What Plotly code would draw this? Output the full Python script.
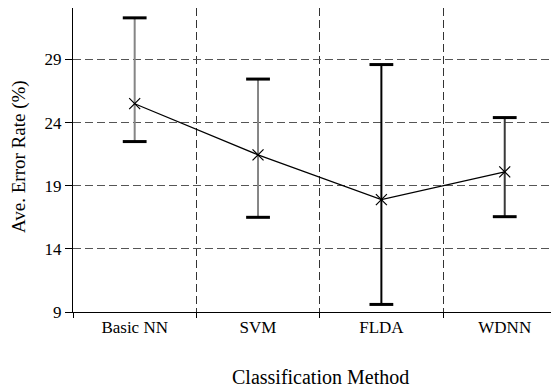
import plotly.graph_objects as go

methods = ["Basic NN", "SVM", "FLDA", "WDNN"]
avg_error = [25.5, 21.45, 17.9, 20.1]
err_high = [32.3, 27.45, 28.6, 24.4]
err_low = [22.5, 16.5, 9.6, 16.55]
y_ticks = [9, 14, 19, 24, 29]

bar_colors = ["#858585", "#858585", "#000000", "#3a3a3a"]
FONT = "Liberation Serif"

# page body has an 8px default margin -> figure sized/placed to compensate
W, H = 551, 382
ML, MT, MB = 65, 0, 78
PW, PH = W - ML, H - MT - MB

fig = go.Figure()

for i, m in enumerate(methods):
    fig.add_trace(go.Scatter(
        x=[m], y=[avg_error[i]], mode="markers",
        marker=dict(size=1, color="rgba(0,0,0,0)"),
        error_y=dict(type="data", symmetric=False,
                     array=[err_high[i] - avg_error[i]],
                     arrayminus=[avg_error[i] - err_low[i]],
                     color=bar_colors[i], thickness=2, width=0),
        showlegend=False, hoverinfo="skip"))

fig.add_trace(go.Scatter(
    x=methods + methods, y=err_high + err_low, mode="markers",
    marker=dict(symbol="line-ew", size=17, line=dict(width=3, color="black")),
    showlegend=False, hoverinfo="skip"))

fig.add_trace(go.Scatter(
    x=methods, y=avg_error, mode="lines+markers",
    line=dict(color="black", width=1.2),
    marker=dict(symbol="x-thin", size=11, line=dict(width=1.2, color="black"), color="black"),
    showlegend=False))

fig.update_layout(
    width=W, height=H,
    margin=dict(l=ML, r=0, t=MT, b=MB, pad=0),
    paper_bgcolor="white", plot_bgcolor="white",
    font=dict(family=FONT, size=17, color="black"),
    xaxis=dict(
        type="category", range=[-0.5, 3.44],
        tickson="boundaries", ticks="outside", ticklen=5, tickcolor="black",
        showgrid=True, gridcolor="#333333", griddash="8px,4px", gridwidth=1,
        showline=True, linecolor="black", linewidth=1, mirror=True,
        tickfont=dict(family=FONT, size=17, color="black"),
        zeroline=False,
    ),
    yaxis=dict(
        range=[9, 33.08], tickvals=y_ticks,
        ticks="outside", ticklen=7, tickcolor="black",
        showgrid=True, gridcolor="#555555", griddash="8px,4px", gridwidth=1,
        showline=True, linecolor="black", linewidth=1,
        tickfont=dict(family=FONT, size=17, color="black"),
        zeroline=False,
    ),
    annotations=[
        dict(text="Classification Method", xref="paper", yref="paper",
             x=(312 - ML) / PW, y=-(369 - PH) / PH, showarrow=False,
             xanchor="center", yanchor="middle",
             font=dict(family=FONT, size=20, color="black")),
        dict(text="Ave. Error Rate (%)", xref="paper", yref="paper",
             x=-(ML - 11) / PW, y=(PH - 149) / PH, showarrow=False,
             xanchor="center", yanchor="middle", textangle=-90,
             font=dict(family=FONT, size=19, color="black")),
    ],
)

fig.write_html("out.html")
